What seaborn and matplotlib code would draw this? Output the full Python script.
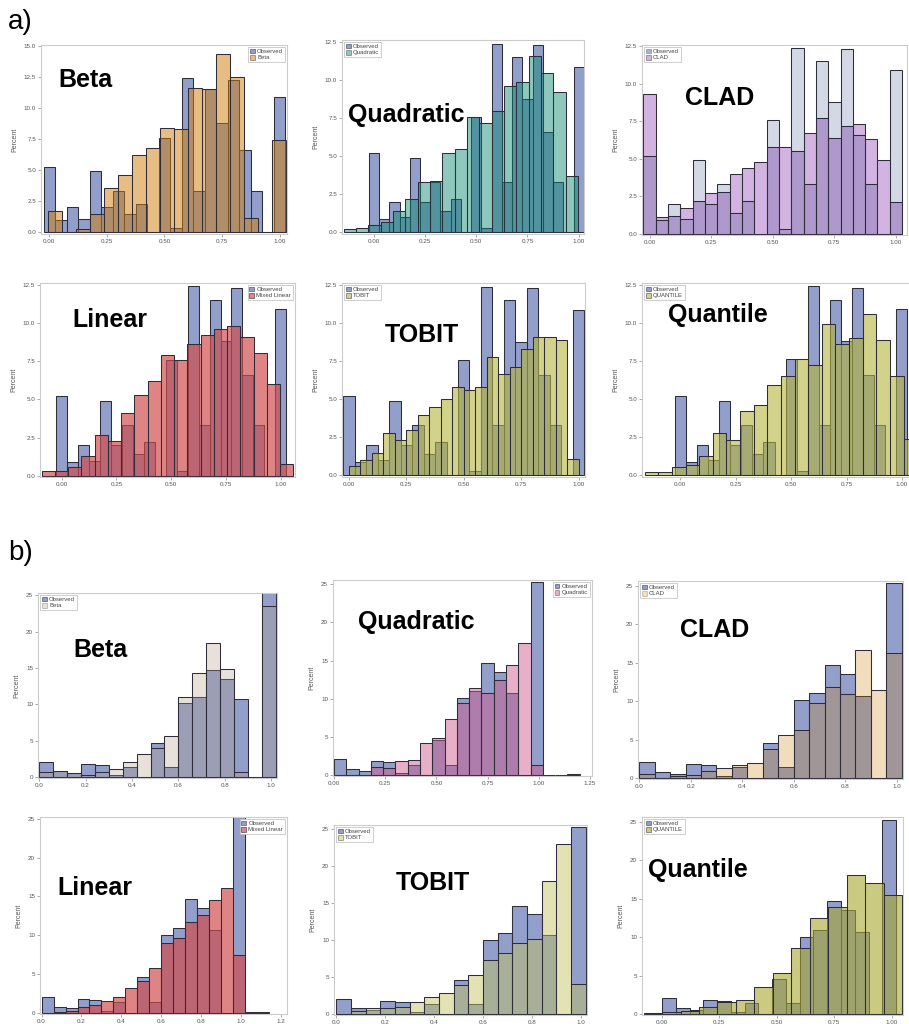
import numpy as np
import pandas as pd
import matplotlib
matplotlib.use("Agg")
import matplotlib.pyplot as plt
import seaborn as sns
from matplotlib.patches import Patch

sns.set_theme(style="white")
plt.rcParams['font.family'] = ['Liberation Sans', 'DejaVu Sans']

# ------------------------- DATA : part a) -------------------------
obs_a_edges = np.linspace(-0.025, 1.025, 22)
obs_a = [5.2, 0.9, 2.0, 1.0, 4.9, 2.0, 3.3, 1.4, 2.2, 0.0, 7.6, 0.3, 12.4, 3.3,
         11.5, 8.8, 12.3, 6.6, 3.3, 0.0, 10.9]

beta_a_edges = np.linspace(-0.004, 1.027, 18)
beta_a = [1.7, 0.0, 0.2, 1.4, 3.5, 4.6, 6.2, 6.8, 8.4, 8.3, 11.6, 11.5, 14.4,
          12.5, 1.1, 0.0, 7.4]

quad_a_edges = np.linspace(-0.148, 0.997, 20)
quad_a = [0.2, 0.3, 0.5, 0.7, 1.4, 2.2, 3.3, 3.4, 5.2, 5.5, 7.6, 7.2, 8.0, 9.6,
          9.9, 11.6, 10.5, 9.2, 3.7]

clad_a_edges = np.linspace(-0.025, 1.025, 22)
clad_a = [9.3, 1.1, 1.2, 1.7, 2.2, 2.7, 2.8, 4.0, 4.4, 4.8, 5.8, 5.8, 5.5, 6.7,
          7.7, 6.4, 7.2, 7.3, 6.3, 4.9, 2.1]

lin_a_edges = np.linspace(-0.091, 1.058, 20)
lin_a = [0.35, 0.35, 0.6, 1.3, 2.7, 2.3, 4.1, 5.3, 6.2, 7.9, 7.6, 8.6, 9.2, 9.6,
         9.8, 9.1, 8.0, 6.0, 0.8]

tobit_a_edges = np.linspace(0.0, 1.0, 21)
tobit_a = [0.6, 1.0, 1.5, 2.8, 2.3, 3.0, 4.0, 4.5, 5.0, 5.8, 5.6, 5.8, 7.8, 6.7,
           7.1, 8.3, 9.1, 9.1, 8.9, 1.1]

quant_a_edges = np.linspace(-0.161, 1.069, 21)
quant_a = [0.2, 0.25, 0.55, 0.7, 1.3, 2.75, 2.3, 4.2, 4.6, 5.9, 6.5, 7.6, 7.2,
           9.9, 8.6, 9.0, 10.6, 8.9, 6.5, 2.4]

# ------------------------- DATA : part b) -------------------------
obs_b_edges = np.linspace(0.0, 1.02, 18)
obs_b = [2.1, 0.8, 0.6, 1.8, 1.7, 0.3, 1.4, 0.0, 4.6, 1.4, 10.1, 11.0, 14.7,
         13.5, 10.7, 0.0, 25.3]

beta_b_edges = np.linspace(0.0, 1.02, 18)
beta_b = [0.7, 0.8, 0.5, 0.3, 0.7, 1.1, 2.0, 3.1, 4.0, 5.6, 11.0, 14.3, 18.4,
          14.8, 0.7, 0.0, 23.5]

quad_b_edges = np.linspace(0.0, 1.2, 21)
quad_b = [0.0, 0.0, 0.0, 1.1, 1.0, 1.9, 2.0, 4.2, 4.9, 7.4, 9.5, 11.4, 10.8,
          12.4, 14.4, 17.3, 1.4, 0.0, 0.0, 0.15]

clad_b_edges = np.linspace(0.0, 1.02, 18)
clad_b = [0.5, 0.0, 0.3, 0.4, 0.9, 1.3, 1.7, 2.0, 3.8, 5.6, 6.2, 9.8, 11.9,
          10.9, 16.7, 11.4, 16.2]

lin_b_edges = np.linspace(0.0, 1.14, 20)
lin_b = [0.0, 0.1, 0.3, 0.7, 1.0, 1.5, 2.1, 3.2, 4.1, 5.8, 9.0, 9.6, 11.7, 12.6,
         14.6, 16.1, 7.4, 0.1, 0.1]

tobit_b_edges = np.linspace(0.0, 1.02, 18)
tobit_b = [0.0, 0.4, 0.9, 0.8, 1.0, 1.6, 2.3, 2.9, 3.9, 5.3, 7.4, 8.3, 9.7,
           10.2, 18.0, 23.0, 4.1]

quant_b_edges = np.linspace(-0.08, 1.046, 15)
quant_b = [0.1, 0.3, 0.4, 0.9, 1.6, 1.9, 3.6, 5.4, 8.6, 12.5, 14.0, 18.1, 17.1,
           15.5]

# ------------------------- labels / ticks -------------------------
xt_a = [0.0, 0.25, 0.5, 0.75, 1.0]
xt_a_lab = ["0.00", "0.25", "0.50", "0.75", "1.00"]
yt_a15 = [0.0, 2.5, 5.0, 7.5, 10.0, 12.5, 15.0]
yt_a15_lab = ["0.0", "2.5", "5.0", "7.5", "10.0", "12.5", "15.0"]
yt_a = [0.0, 2.5, 5.0, 7.5, 10.0, 12.5]
yt_a_lab = ["0.0", "2.5", "5.0", "7.5", "10.0", "12.5"]
xt_b1 = [0.0, 0.2, 0.4, 0.6, 0.8, 1.0]
xt_b1_lab = ["0.0", "0.2", "0.4", "0.6", "0.8", "1.0"]
xt_b2 = [0.0, 0.25, 0.5, 0.75, 1.0, 1.25]
xt_b2_lab = ["0.00", "0.25", "0.50", "0.75", "1.00", "1.25"]
xt_b4 = [0.0, 0.2, 0.4, 0.6, 0.8, 1.0, 1.2]
xt_b4_lab = ["0.0", "0.2", "0.4", "0.6", "0.8", "1.0", "1.2"]
yt_b = [0, 5, 10, 15, 20, 25]
yt_b_lab = ["0", "5", "10", "15", "20", "25"]

# ------------------------- layout / style -------------------------
W, H = 909, 1024
OBS = ('#4A5FA8', 0.6)
panels = [
    dict(rect=(41, 45, 287, 234), title="Beta", leg="Beta", obs=obs_a, oe=obs_a_edges,
         pred=beta_a, pe=beta_a_edges, oc=OBS, pc=('#D17D09', 0.5), obs_top=False,
         xlim=(-0.036, 1.032), ylim=(-0.2, 15.1), xt=(xt_a, xt_a_lab), yt=(yt_a15, yt_a15_lab),
         loc='upper right', tp=(58, 80)),
    dict(rect=(342, 40, 584, 234), title="Quadratic", leg="Quadratic", obs=obs_a, oe=obs_a_edges,
         pred=quad_a, pe=quad_a_edges, oc=OBS, pc=('#04856B', 0.45), obs_top=False,
         xlim=(-0.156, 1.026), ylim=(-0.1, 12.65), xt=(xt_a, xt_a_lab), yt=(yt_a, yt_a_lab),
         loc='upper left', tp=(348, 115)),
    dict(rect=(642, 45, 907, 235), title="CLAD", leg="CLAD", obs=obs_a, oe=obs_a_edges,
         pred=clad_a, pe=clad_a_edges, oc=('#00186A', 0.17), pc=('#A969C5', 0.5), obs_top=True,
         xlim=(-0.031, 1.045), ylim=(-0.07, 12.6), xt=(xt_a, xt_a_lab), yt=(yt_a, yt_a_lab),
         loc='upper left', tp=(685, 98)),
    dict(rect=(40, 283, 295, 477), title="Linear", leg="Mixed Linear", obs=obs_a, oe=obs_a_edges,
         pred=lin_a, pe=lin_a_edges, oc=OBS, pc=('#D14A4A', 0.68), obs_top=False,
         xlim=(-0.099, 1.065), ylim=(-0.07, 12.6), xt=(xt_a, xt_a_lab), yt=(yt_a, yt_a_lab),
         loc='upper right', tp=(72, 320)),
    dict(rect=(342, 283, 585, 477), title="TOBIT", leg="TOBIT", obs=obs_a, oe=obs_a_edges,
         pred=tobit_a, pe=tobit_a_edges, oc=OBS, pc=('#B4B43C', 0.6), obs_top=False,
         xlim=(-0.03, 1.028), ylim=(-0.1, 12.65), xt=(xt_a, xt_a_lab), yt=(yt_a, yt_a_lab),
         loc='upper left', tp=(385, 335)),
    dict(rect=(642, 283, 913, 477), title="Quantile", leg="QUANTILE", obs=obs_a, oe=obs_a_edges,
         pred=quant_a, pe=quant_a_edges, oc=OBS, pc=('#B4B43C', 0.6), obs_top=False,
         xlim=(-0.173, 1.05), ylim=(-0.1, 12.6), xt=(xt_a, xt_a_lab), yt=(yt_a, yt_a_lab),
         loc='upper left', tp=(668, 315)),
    dict(rect=(38, 593, 277, 778), title="Beta", leg="Beta", obs=obs_b, oe=obs_b_edges,
         pred=beta_b, pe=beta_b_edges, oc=OBS, pc=('#B29E84', 0.3), obs_top=False,
         xlim=(-0.005, 1.025), ylim=(-0.15, 25.3), xt=(xt_b1, xt_b1_lab), yt=(yt_b, yt_b_lab),
         loc='upper left', tp=(73, 650)),
    dict(rect=(333, 580, 592, 776), title="Quadratic", leg="Quadratic", obs=obs_b, oe=obs_b_edges,
         pred=quad_b, pe=quad_b_edges, oc=OBS, pc=('#CE578A', 0.47), obs_top=False,
         xlim=(-0.005, 1.26), ylim=(-0.1, 25.55), xt=(xt_b2, xt_b2_lab), yt=(yt_b, yt_b_lab),
         loc='upper right', tp=(358, 622)),
    dict(rect=(638, 581, 903, 779), title="CLAD", leg="CLAD", obs=obs_b, oe=obs_b_edges,
         pred=clad_b, pe=clad_b_edges, oc=OBS, pc=('#CD8010', 0.27), obs_top=False,
         xlim=(-0.005, 1.025), ylim=(-0.1, 25.6), xt=(xt_b1, xt_b1_lab), yt=(yt_b, yt_b_lab),
         loc='upper left', tp=(680, 630)),
    dict(rect=(40, 817, 287, 1014), title="Linear", leg="Mixed Linear", obs=obs_b, oe=obs_b_edges,
         pred=lin_b, pe=lin_b_edges, oc=OBS, pc=('#D14A4A', 0.68), obs_top=False,
         xlim=(-0.008, 1.23), ylim=(-0.15, 25.25), xt=(xt_b4, xt_b4_lab), yt=(yt_b, yt_b_lab),
         loc='upper right', tp=(57, 888)),
    dict(rect=(334, 825, 587, 1015), title="TOBIT", leg="TOBIT", obs=obs_b, oe=obs_b_edges,
         pred=tobit_b, pe=tobit_b_edges, oc=OBS, pc=('#C2C260', 0.47), obs_top=False,
         xlim=(-0.01, 1.026), ylim=(-0.1, 25.6), xt=(xt_b1, xt_b1_lab), yt=(yt_b, yt_b_lab),
         loc='upper left', tp=(396, 883)),
    dict(rect=(642, 817, 903, 1015), title="Quantile", leg="QUANTILE", obs=obs_b, oe=obs_b_edges,
         pred=quant_b, pe=quant_b_edges, oc=OBS, pc=('#A7A730', 0.6), obs_top=False,
         xlim=(-0.087, 1.05), ylim=(-0.1, 25.65), xt=(xt_a, xt_a_lab), yt=(yt_b, yt_b_lab),
         loc='upper left', tp=(648, 870)),
]

EDGE = '#2E2E3A'

fig = plt.figure(figsize=(W / 100, H / 100), dpi=100)
fig.patch.set_facecolor('white')


def hist_frame(edges, values):
    e = np.asarray(edges, dtype=float)
    return pd.DataFrame({'x': (e[:-1] + e[1:]) / 2, 'w': values})


def draw(ax, edges, values, colour, alpha):
    sns.histplot(data=hist_frame(edges, values), x='x', weights='w',
                 bins=[float(v) for v in edges], ax=ax,
                 color=colour, alpha=alpha, edgecolor=EDGE, linewidth=0.75)


for p in panels:
    l, t, r, b = p['rect']
    ax = fig.add_axes([l / W, 1 - b / H, (r - l) / W, (b - t) / H])
    ax.set_facecolor('white')
    oc, oa = p['oc']
    pc, pa = p['pc']
    if p['obs_top']:
        draw(ax, p['pe'], p['pred'], pc, pa)
        draw(ax, p['oe'], p['obs'], oc, oa)
    else:
        draw(ax, p['oe'], p['obs'], oc, oa)
        draw(ax, p['pe'], p['pred'], pc, pa)
    ax.set_xlim(*p['xlim'])
    ax.set_ylim(*p['ylim'])
    ax.set_xticks(p['xt'][0])
    ax.set_xticklabels(p['xt'][1])
    ax.set_yticks(p['yt'][0])
    ax.set_yticklabels(p['yt'][1])
    ax.tick_params(axis='both', bottom=True, left=True, length=2, width=0.5,
                   color='#888888', labelsize=4.5, labelcolor='#555555', pad=1.5)
    for s in ax.spines.values():
        s.set_visible(True)
        s.set_color('#CCCCCC')
        s.set_linewidth(0.8)
    ax.set_xlabel('')
    ax.set_ylabel('Percent', fontsize=5, color='#555555', labelpad=4)
    handles = [Patch(facecolor=oc, alpha=max(oa, 0.35), edgecolor=EDGE, linewidth=0.6,
                     label='Observed'),
               Patch(facecolor=pc, alpha=pa, edgecolor=EDGE, linewidth=0.6, label=p['leg'])]
    leg = ax.legend(handles=handles, loc=p['loc'], fontsize=4.3, handlelength=0.8,
                    handleheight=0.8, handletextpad=0.4, borderpad=0.3, labelspacing=0.15,
                    frameon=True, fancybox=False, framealpha=1, edgecolor='#BBBBBB',
                    borderaxespad=0.35)
    leg.get_frame().set_linewidth(0.5)
    for txt in leg.get_texts():
        txt.set_color('#444444')
    tx, ty = p['tp']
    fig.text(tx / W, 1 - ty / H, p['title'], fontsize=18, fontweight='bold',
             color='black', ha='left', va='center')

fig.text(8 / W, 1 - 22 / H, 'a)', fontsize=20, color='black', ha='left', va='center')
fig.text(8 / W, 1 - 553 / H, 'b)', fontsize=20, color='black', ha='left', va='center')

fig.savefig('out.png', dpi=100, facecolor='white')
